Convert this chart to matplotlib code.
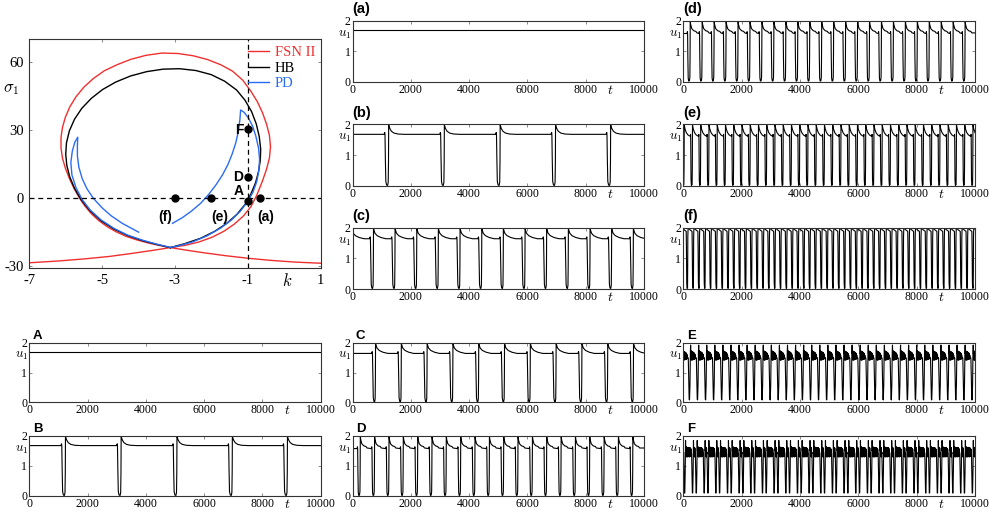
import numpy as np
import matplotlib
matplotlib.use('Agg')
import matplotlib.pyplot as plt
import matplotlib.transforms as mtransforms

plt.rcParams['font.family'] = 'serif'
plt.rcParams['font.serif'] = ['Liberation Serif', 'DejaVu Serif']
plt.rcParams['mathtext.fontset'] = 'cm'
plt.rcParams['axes.unicode_minus'] = False

#~~~~~~~~~~~~~~~~~~~~~~~~~~~~~~~~~~~~~~~~~~~~~~~~~~~~~~~~~~~~~~~~~~~~~~~~~~~~~~~
# Two-parameter bifurcation curves in the (k, sigma_1) plane
#~~~~~~~~~~~~~~~~~~~~~~~~~~~~~~~~~~~~~~~~~~~~~~~~~~~~~~~~~~~~~~~~~~~~~~~~~~~~~~~
fsn_k = [1.0, 0.3, -0.4, -1.0, -1.6, -2.2, -2.7, -3.13, -3.45, -3.75, -4.05,
         -4.35, -4.62, -4.87, -5.10, -5.30, -5.47, -5.63, -5.77, -5.90, -6.01,
         -6.09, -6.13, -6.13, -6.09, -6.01, -5.89, -5.72, -5.50, -5.24, -4.94,
         -4.60, -4.22, -3.80, -3.36, -2.92, -2.50, -2.10, -1.74, -1.42, -1.14,
         -0.92, -0.74, -0.60, -0.49, -0.41, -0.38, -0.41, -0.49, -0.61, -0.76,
         -0.92, -1.12, -1.37, -1.66, -1.98, -2.34, -2.72, -3.13, -3.6, -4.2,
         -4.8, -5.5, -6.2, -7.0]
fsn_s = [-28.9, -28.4, -27.6, -26.7, -25.6, -24.3, -23.1, -22.0, -21.0, -19.9,
         -18.6, -17.0, -15.0, -12.7, -10.0, -7.0, -3.8, 0.0, 4.0, 8.5, 13.0,
         17.5, 22.0, 26.5, 31.0, 35.5, 40.0, 44.5, 48.8, 52.6, 56.0,
         58.6, 61.0, 62.8, 63.8, 63.6, 62.6, 60.9, 58.6, 55.8, 51.8,
         47.0, 42.3, 37.5, 32.5, 27.5, 22.5, 17.5, 12.5, 7.0, 1.0,
         -4.0, -8.0, -11.6, -14.8, -17.4, -19.5, -21.0, -22.0, -23.2, -24.6,
         -25.9, -27.0, -27.9, -28.7]

hb_k = [-3.13, -3.5, -3.9, -4.3, -4.68, -5.03, -5.33, -5.58, -5.76, -5.89,
        -5.97, -6.0, -5.98, -5.90, -5.76, -5.56, -5.30, -4.99, -4.63, -4.22,
        -3.78, -3.33, -2.88, -2.43, -2.01, -1.64, -1.31, -1.08, -0.90, -0.77,
        -0.69, -0.65, -0.66, -0.71, -0.79, -0.92, -1.08, -1.30, -1.58, -1.92,
        -2.30, -2.72, -3.13]
hb_s = [-22.0, -20.6, -18.9, -16.7, -13.8, -10.2, -5.8, -0.8, 4.2, 9.2,
        14.2, 19.2, 24.2, 29.5, 34.6, 39.4, 43.8, 47.7, 51.0, 53.7,
        55.6, 56.7, 56.9, 56.1, 54.3, 51.4, 47.5, 43.0, 38.0, 32.5,
        27.0, 21.5, 16.5, 11.5, 6.6, 1.6, -3.0, -7.3, -11.3, -14.9,
        -17.9, -20.2, -22.0]

pd_k = [-3.07, -2.80, -2.55, -2.30, -2.08, -1.88, -1.70, -1.55, -1.43, -1.33,
        -1.26, -1.22, -1.20, -1.10, -0.98, -0.87, -0.78, -0.71, -0.68, -0.70,
        -0.76, -0.86, -1.0, -1.2, -1.45, -1.76, -2.12, -2.52, -2.95, -3.13,
        -3.5, -3.9, -4.3, -4.68, -5.03, -5.33, -5.55, -5.72, -5.83, -5.86,
        -5.82, -5.75, -5.67, -5.68, -5.68, -5.64, -5.55, -5.42, -5.24, -5.0,
        -4.75, -4.45, -4.0]
pd_s = [-11.3, -8.8, -5.9, -2.5, 1.4, 5.6, 10.0, 14.6, 19.4, 24.4,
        29.5, 34.5, 38.7, 37.6, 35.0, 31.5, 27.0, 22.0, 17.0, 12.0,
        7.0, 2.5, -1.5, -5.8, -9.8, -13.5, -16.8, -19.5, -21.4, -21.9,
        -20.5, -18.7, -16.5, -13.5, -9.8, -5.4, -0.8, 4.5, 10.0, 15.5,
        20.5, 24.5, 26.7, 23.0, 18.4, 13.5, 8.5, 4.0, -0.3, -4.5,
        -8.0, -11.3, -15.2]

# parameter values used for the time series
pt_names = ['(a)', '(e)', '(f)', 'A', 'D', 'F']
pt_k = [-0.67, -2.0, -3.0, -1.0, -1.0, -1.0]
pt_s = [0.0, 0.0, 0.0, -1.5, 9.0, 30.5]

#~~~~~~~~~~~~~~~~~~~~~~~~~~~~~~~~~~~~~~~~~~~~~~~~~~~~~~~~~~~~~~~~~~~~~~~~~~~~~~~
# Time series u_1(t): one cycle shape (time after the drop, u_1) per regime,
# plus the drop times of each cycle
#~~~~~~~~~~~~~~~~~~~~~~~~~~~~~~~~~~~~~~~~~~~~~~~~~~~~~~~~~~~~~~~~~~~~~~~~~~~~~~~
T_END = 10000
steady_level = 1.68

slow_dt = [0, 12, 22, 30, 42, 58, 85, 120, 140, 150, 156, 168, 195, 250, 340,
           480, 700]
slow_u = [1.68, 1.72, 1.74, 1.66, 0.9, 0.15, 0.03, 0.02, 0.12, 0.8, 2.0, 1.95,
          1.87, 1.78, 1.72, 1.69, 1.68]

mid_dt = [0, 12, 22, 30, 42, 58, 80, 105, 122, 130, 136, 150, 185, 260, 390, 560]
mid_u = [1.64, 1.68, 1.70, 1.62, 0.9, 0.15, 0.03, 0.02, 0.12, 0.8, 2.0, 1.92,
         1.82, 1.74, 1.68, 1.64]

fast_dt = [0, 10, 18, 26, 38, 55, 80, 95, 102, 108, 122, 160, 230, 300, 340]
fast_u = [1.58, 1.64, 1.55, 0.8, 0.12, 0.02, 0.03, 0.15, 0.8, 2.0, 1.88, 1.74,
          1.67, 1.65, 1.60]

e_dt = [0, 6, 12, 22, 35, 58, 66, 72, 78, 98, 140, 200, 250]
e_u = [1.62, 1.68, 1.50, 0.2, 0.02, 0.04, 0.6, 2.0, 1.96, 1.86, 1.74, 1.66, 1.63]

f_dt = [0, 8, 18, 30, 45, 50, 55, 65, 90, 130, 170]
f_u = [1.88, 1.3, 0.2, 0.02, 0.03, 0.6, 1.7, 2.0, 1.97, 1.93, 1.90]

burst_dt = [0, 15, 30, 42, 58, 72, 80, 88,
            96, 104, 112, 120, 128, 136, 144, 152, 160, 168,
            176, 184, 192, 200, 208, 216, 224, 232, 240, 248, 262]
burst_u = [1.48, 0.8, 0.1, 0.08, 0.6, 1.7, 1.92, 1.62,
           1.72, 1.42, 1.72, 1.42, 1.70, 1.42, 1.70, 1.43, 1.68, 1.43,
           1.68, 1.44, 1.66, 1.44, 1.65, 1.45, 1.62, 1.46, 1.58, 1.48, 1.50]

pair_dt = [0, 12, 26, 38, 52, 64, 72,
           80, 88, 96, 104, 112, 120, 128,
           140, 154, 166, 180, 192, 200,
           208, 216, 224, 232, 240, 248, 256, 264, 272, 280, 288, 296,
           304, 312, 320, 328, 336, 344, 352, 360, 368, 376, 384, 394]
pair_u = [1.42, 0.8, 0.1, 0.1, 0.8, 1.85, 1.5,
          1.62, 1.32, 1.62, 1.30, 1.60, 1.40, 1.45,
          0.8, 0.1, 0.1, 0.8, 1.85, 1.5,
          1.62, 1.32, 1.64, 1.30, 1.62, 1.32, 1.60, 1.30, 1.62, 1.33, 1.60, 1.31,
          1.61, 1.32, 1.60, 1.30, 1.62, 1.33, 1.60, 1.32, 1.58, 1.34, 1.56,
          1.42]

drops_b = [1085, 2995, 4910, 6810, 8700]
drops_c = [-160, 585, 1325, 2070, 2810, 3555, 4300, 5040, 5785, 6525, 7270,
           8015, 8755, 9500]
drops_d = [130, 540, 950, 1360, 1770, 2180, 2590, 3000, 3410, 3820, 4230, 4640,
           5050, 5460, 5870, 6280, 6690, 7100, 7510, 7920, 8330, 8740, 9150, 9560]
drops_e = [-40, 243, 526, 809, 1092, 1375, 1658, 1941, 2224, 2507, 2790, 3073,
           3356, 3639, 3922, 4205, 4488, 4771, 5054, 5337, 5620, 5903, 6186,
           6469, 6752, 7035, 7318, 7601, 7884, 8167, 8450, 8733, 9016, 9299,
           9582, 9865]
drops_f = [-100, 100, 300, 500, 700, 900, 1100, 1300, 1500, 1700, 1900, 2100,
           2300, 2500, 2700, 2900, 3100, 3300, 3500, 3700, 3900, 4100, 4300,
           4500, 4700, 4900, 5100, 5300, 5500, 5700, 5900, 6100, 6300, 6500,
           6700, 6900, 7100, 7300, 7500, 7700, 7900, 8100, 8300, 8500, 8700,
           8900, 9100, 9300, 9500, 9700, 9900]
drops_C = [655, 1540, 2425, 3310, 4195, 5080, 5965, 6850, 7735, 8620, 9505]
drops_D = [160, 650, 1145, 1635, 2130, 2620, 3110, 3605, 4095, 4590, 5080, 5570,
           6065, 6555, 7050, 7540, 8030, 8525, 9015, 9510]
drops_E = [-106, 171, 448, 725, 1002, 1279, 1556, 1833, 2110, 2387, 2664, 2941,
           3218, 3495, 3772, 4049, 4326, 4603, 4880, 5157, 5434, 5711, 5988,
           6265, 6542, 6819, 7096, 7373, 7650, 7927, 8204, 8481, 8758, 9035,
           9312, 9589, 9866]
drops_F = [-115, 285, 685, 1085, 1485, 1885, 2285, 2685, 3085, 3485, 3885, 4285,
           4685, 5085, 5485, 5885, 6285, 6685, 7085, 7485, 7885, 8285, 8685,
           9085, 9485, 9885]


def build_trace(drops, dt, u):
    # repeat one cycle shape at every drop time, hold the end values
    if len(drops) == 0:
        return np.array([0, T_END]), np.array([steady_level, steady_level])
    t = np.concatenate([d + np.asarray(dt, float) for d in drops])
    v = np.tile(np.asarray(u, float), len(drops))
    if t[0] > 0:
        t = np.r_[0.0, t]
        v = np.r_[u[0], v]
    if t[-1] < T_END:
        t = np.r_[t, T_END]
        v = np.r_[v, u[-1]]
    return t, v


# figure layout (pixels of a 989 x 518 canvas)
W, H = 989., 518.
col_left = [29.3, 352.5, 683.3]
col_width = 291.5
row_span = [(20.7, 81.7), (124.5, 186.0), (227.7, 289.0),
            (342.7, 402.3), (436.0, 496.0)]


def px_axes(fig, left, top, width, bottom):
    return fig.add_axes([left / W, 1 - bottom / H, width / W, (bottom - top) / H])


def style_box(ax, lw=0.8):
    for sp in ax.spines.values():
        sp.set_linewidth(lw)
        sp.set_color('#333333')
    ax.tick_params(direction='in', length=2, width=0.6, top=True, right=True,
                   colors='#777777', labelcolor='black')


fig = plt.figure(figsize=(9.89, 5.18), dpi=100)

#---------------------------------------------------------------------------
# Bifurcation diagram
#---------------------------------------------------------------------------
ax0 = px_axes(fig, col_left[0], 39.0, col_width, 268.0)
style_box(ax0)
ax0.plot(fsn_k, fsn_s, color='#f03030', lw=1.0, label='FSN II')
ax0.plot(hb_k, hb_s, color='black', lw=1.0, label='HB')
ax0.plot(pd_k, pd_s, color='#2a6cf5', lw=1.0, label='PD')
ax0.axhline(0, color='black', lw=0.9, ls=(0, (4, 3)))
ax0.axvline(-1, color='black', lw=0.9, ls=(0, (4, 3)))
ax0.plot(pt_k, pt_s, 'o', color='black', ms=5, zorder=5)

label_off = {'(a)': (0.16, -5.5, 'center', 'top'),
             '(e)': (0.22, -5.5, 'center', 'top'),
             '(f)': (-0.28, -5.5, 'center', 'top'),
             'A': (-0.12, 1.5, 'right', 'bottom'),
             'D': (-0.12, 0.0, 'right', 'center'),
             'F': (-0.12, -0.5, 'right', 'center')}
for name, k, s in zip(pt_names, pt_k, pt_s):
    dx, dy, ha, va = label_off[name]
    ax0.text(k + dx, s + dy, name, ha=ha, va=va, fontsize=10, fontweight='bold',
             family='Liberation Sans')

ax0.set_xlim(-7, 1)
ax0.set_ylim(-31, 70)
ax0.set_xticks([-7, -5, -3, -1, 1])
ax0.set_yticks([-30, 0, 30, 60])
ax0.tick_params(labelsize=10.5, pad=4)
tr = mtransforms.blended_transform_factory(ax0.transData, ax0.transAxes)
ax0.text(0.08, -0.02, r'$k$', transform=tr, ha='center', va='top', fontsize=12)
tr = mtransforms.blended_transform_factory(ax0.transAxes, ax0.transData)
ax0.text(-0.035, 47.8, r'$\sigma_1$', transform=tr, ha='right', va='center',
         fontsize=12)
ax0.legend(loc='upper right', bbox_to_anchor=(1.005, 1.0), frameon=False,
           fontsize=10.5, handlelength=1.5, handletextpad=0.35,
           labelspacing=0.15, borderaxespad=0.1, labelcolor='linecolor')

#---------------------------------------------------------------------------
# Time series panels
#---------------------------------------------------------------------------
panels = [
    ('(a)', 1, 0, [], None, None),
    ('(b)', 1, 1, drops_b, slow_dt, slow_u),
    ('(c)', 1, 2, drops_c, mid_dt, mid_u),
    ('(d)', 2, 0, drops_d, fast_dt, fast_u),
    ('(e)', 2, 1, drops_e, e_dt, e_u),
    ('(f)', 2, 2, drops_f, f_dt, f_u),
    ('A', 0, 3, [], None, None),
    ('B', 0, 4, drops_b, slow_dt, slow_u),
    ('C', 1, 3, drops_C, mid_dt, mid_u),
    ('D', 1, 4, drops_D, fast_dt, fast_u),
    ('E', 2, 3, drops_E, burst_dt, burst_u),
    ('F', 2, 4, drops_F, pair_dt, pair_u),
]

for name, col, row, drops, dt, u in panels:
    top, bottom = row_span[row]
    ax = px_axes(fig, col_left[col], top, col_width, bottom)
    style_box(ax)
    t, v = build_trace(drops, dt, u)
    ax.plot(t, v, color='black', lw=0.8)
    ax.set_xlim(0, T_END)
    ax.set_ylim(0, 2)
    ax.set_xticks([0, 2000, 4000, 6000, 8000, 10000])
    ax.set_yticks([0, 1, 2])
    ax.tick_params(labelsize=8.5, pad=1.5)

    tr = mtransforms.blended_transform_factory(ax.transData, ax.transAxes)
    ax.text(8850, -0.03, r'$t$', transform=tr, ha='center', va='top',
            fontsize=10)
    tr = mtransforms.blended_transform_factory(ax.transAxes, ax.transData)
    ax.text(-0.004, 1.55, r'$u_1$', transform=tr, ha='right', va='center',
            fontsize=9.5)

    if name.startswith('('):
        ax.text(0.0, 1.08, name, transform=ax.transAxes, ha='left', va='bottom',
                fontsize=10.5, fontweight='bold', family='Liberation Sans')
    else:
        ax.text(0.012, 1.02, name, transform=ax.transAxes, ha='left',
                va='bottom', fontsize=9.5, fontweight='bold',
                family='Liberation Sans')

fig.savefig('out.png', dpi=100, facecolor='w')
plt.close()
